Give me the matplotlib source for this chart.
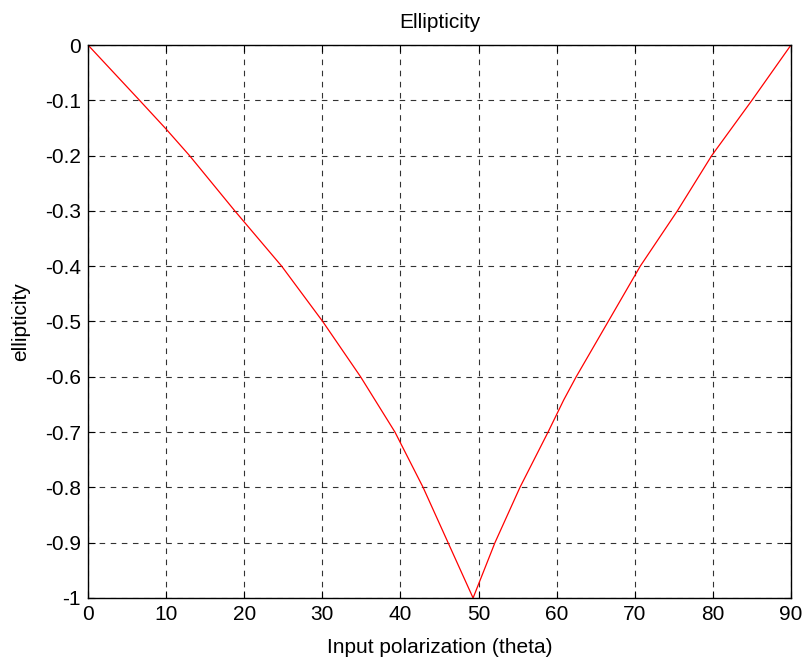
import matplotlib
matplotlib.use("Agg")
from matplotlib import pyplot as plt

# ellipticity vs input polarization angle (degrees)
theta = [0, 6.6, 10, 13.0, 18.8, 24.8, 30.05, 34.9, 39.3, 42.9, 46.1, 49.3,
         52.1, 55.3, 58.9, 60.9, 62.5, 66.6, 70.7, 75.45, 79.85, 85.0, 90]
ellipticity = [0, -0.1, -0.152, -0.2, -0.3, -0.4, -0.5, -0.6, -0.7, -0.8, -0.9, -1.0,
               -0.9, -0.8, -0.7, -0.642, -0.6, -0.5, -0.4, -0.3, -0.2, -0.1, 0]

x_ticks = list(range(0, 91, 10))
y_ticks = [0, -0.1, -0.2, -0.3, -0.4, -0.5, -0.6, -0.7, -0.8, -0.9, -1]
y_tick_labels = ["0", "-0.1", "-0.2", "-0.3", "-0.4", "-0.5", "-0.6", "-0.7", "-0.8", "-0.9", "-1"]

plt.rcParams['font.family'] = ['Liberation Sans', 'DejaVu Sans']
plt.rcParams['font.size'] = 15

fig = plt.figure(figsize=(8.05, 6.59), dpi=100)
ax = fig.add_axes([0.1093, 0.0926, 0.8733, 0.8391])

ax.plot(theta, ellipticity, color='red', linewidth=0.9)

ax.set_xlim(0, 90)
ax.set_ylim(-1, 0)
ax.set_xticks(x_ticks)
ax.set_yticks(y_ticks)
ax.set_yticklabels(y_tick_labels)
ax.tick_params(direction='in', top=True, right=True, length=5, width=0.8, pad=5, colors='black')
ax.grid(True, color='black', linestyle=(0, (5, 5)), linewidth=0.8, alpha=0.8)
for s in ax.spines.values():
    s.set_linewidth(1.0)

ax.set_title('Ellipticity', fontsize=15, pad=12)
ax.set_xlabel('Input polarization (theta)', labelpad=10)
ax.set_ylabel('ellipticity', labelpad=11)

fig.savefig('out.png', dpi=100)
